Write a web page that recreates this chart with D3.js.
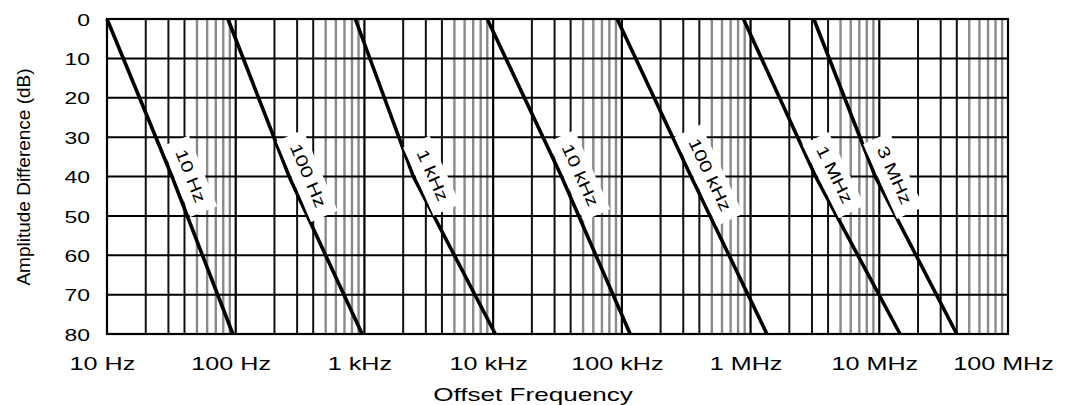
<!DOCTYPE html>
<html><head><meta charset="utf-8">
<script src="https://cdn.jsdelivr.net/npm/d3@7"></script>
<style>
body{margin:0;background:#fff;}
svg{display:block;font-family:"Liberation Sans",Arial,Helvetica,sans-serif;}
</style>
</head><body><svg id="c" width="1066" height="405"></svg>
<script>
// ---- data ----
const filterLabels = ["10 Hz","100 Hz","1 kHz","10 kHz","100 kHz","1 MHz","3 MHz"];
const levelPoints  = [0, 40, 80];                                   // dB
const freqAt0dB    = [10, 87, 850, 9000, 92000, 880000, 3.1e6];     // Hz
const freqAt40dB   = [32, 260, 2400, 34000, 345000, 3.2e6, 9.3e6];  // Hz
const freqAt80dB   = [95, 960, 10400, 116000, 1.34e6, 1.45e7, 4.0e7]; // Hz
const xTickValues  = [10, 100, 1e3, 1e4, 1e5, 1e6, 1e7, 1e8];
const xTickLabels  = ["10 Hz","100 Hz","1 kHz","10 kHz","100 kHz","1 MHz","10 MHz","100 MHz"];
const yTickValues  = [0,10,20,30,40,50,60,70,80];
const labelLevel   = 41.5; // dB where the curve labels sit

const svg = d3.select("#c");
const x = d3.scaleLog().domain([10, 1e8]).range([107, 1008]);
const y = d3.scaleLinear().domain([0, 80]).range([19, 334]);

// ---- grid ----
const grid = svg.append("g");
const minor = [];
for (let k = 1; k < 8; k++) for (let m = 1; m <= 9; m++) {
  const v = m * Math.pow(10, k);
  if (v > 10 && v < 1e8) minor.push({v, m});
}
grid.selectAll("line.v").data(minor).join("line")
  .attr("x1", d => x(d.v)).attr("x2", d => x(d.v))
  .attr("y1", y(0)).attr("y2", y(80))
  .attr("stroke", d => d.m === 1 ? "#000" : (d.m <= 4 ? "#111" : "#8a8a8a"))
  .attr("stroke-width", d => d.m === 1 ? 2.2 : (d.m <= 4 ? 2 : 2.4));
grid.selectAll("line.h").data(yTickValues.slice(1, -1)).join("line")
  .attr("x1", x(10)).attr("x2", x(1e8))
  .attr("y1", d => y(d)).attr("y2", d => y(d))
  .attr("stroke", "#000").attr("stroke-width", 2);

// ---- curves ----
const curves = filterLabels.map((name, i) => ({
  name,
  pts: [freqAt0dB[i], freqAt40dB[i], freqAt80dB[i]].map((f, j) => ({f, db: levelPoints[j]}))
}));

// label boxes (drawn before curves so curves stay on top)
const labG = svg.append("g");
curves.forEach(c => {
  const a = c.pts[1], b = c.pts[2];
  const t = (labelLevel - a.db) / (b.db - a.db);
  const lf = Math.log10(a.f) + t * (Math.log10(b.f) - Math.log10(a.f));
  const px = x(Math.pow(10, lf)), py = y(labelLevel);
  const dx = x(c.pts[2].f) - x(c.pts[0].f), dy = y(80) - y(0);
  const ang = Math.atan2(dy, dx) * 180 / Math.PI;
  const g = labG.append("g").attr("transform", `translate(${px},${py}) rotate(${ang})`);
  const rect = g.append("rect").attr("fill", "#fff");
  const txt = g.append("text")
    .attr("text-anchor", "middle").attr("y", -12)
    .attr("transform", "scale(1.3,1)")
    .attr("font-size", 16.5).attr("fill", "#000")
    .text(c.name);
  const w = txt.node().getComputedTextLength() * 1.3 + 20;
  rect.attr("x", -w / 2).attr("y", -31).attr("width", w).attr("height", 29);
});

const line = d3.line().x(d => x(d.f)).y(d => y(d.db));
svg.append("g").selectAll("path").data(curves).join("path")
  .attr("d", d => line(d.pts))
  .attr("fill", "none").attr("stroke", "#000").attr("stroke-width", 3.6);

labG.raise();

// ---- frame ----
svg.append("rect").attr("x", x(10)).attr("y", y(0))
  .attr("width", x(1e8) - x(10)).attr("height", y(80) - y(0))
  .attr("fill", "none").attr("stroke", "#000").attr("stroke-width", 2.2);

// ---- axes ----
const yAxis = svg.append("g").attr("transform", `translate(${x(10)},0)`)
  .call(d3.axisLeft(y).tickValues(yTickValues).tickSize(0).tickFormat(d3.format("d")));
yAxis.select(".domain").remove();
yAxis.selectAll("text")
  .attr("x", 0).attr("dy", "0.36em")
  .attr("transform", "translate(-17,0) scale(1.35,1)")
  .attr("font-size", 17).attr("fill", "#000")
  .style("font-family", "'Liberation Sans',Arial,sans-serif");

const xAxis = svg.append("g").attr("transform", `translate(0,${y(80)})`)
  .call(d3.axisBottom(x).tickValues(xTickValues).tickSize(0)
    .tickFormat((d, i) => xTickLabels[i]));
xAxis.select(".domain").remove();
xAxis.selectAll("text")
  .attr("y", 0).attr("dy", 0)
  .attr("transform", "translate(-5,36) scale(1.4,1)")
  .attr("font-size", 18).attr("fill", "#000")
  .style("font-family", "'Liberation Sans',Arial,sans-serif");

svg.append("text")
  .attr("text-anchor", "middle")
  .attr("transform", "translate(533,401) scale(1.45,1)")
  .attr("font-size", 18).attr("fill", "#000")
  .text("Offset Frequency");

svg.append("text")
  .attr("text-anchor", "middle")
  .attr("transform", "translate(30,177) rotate(-90)")
  .attr("font-size", 19).attr("fill", "#000")
  .text("Amplitude Difference (dB)");
</script>
</body></html>
